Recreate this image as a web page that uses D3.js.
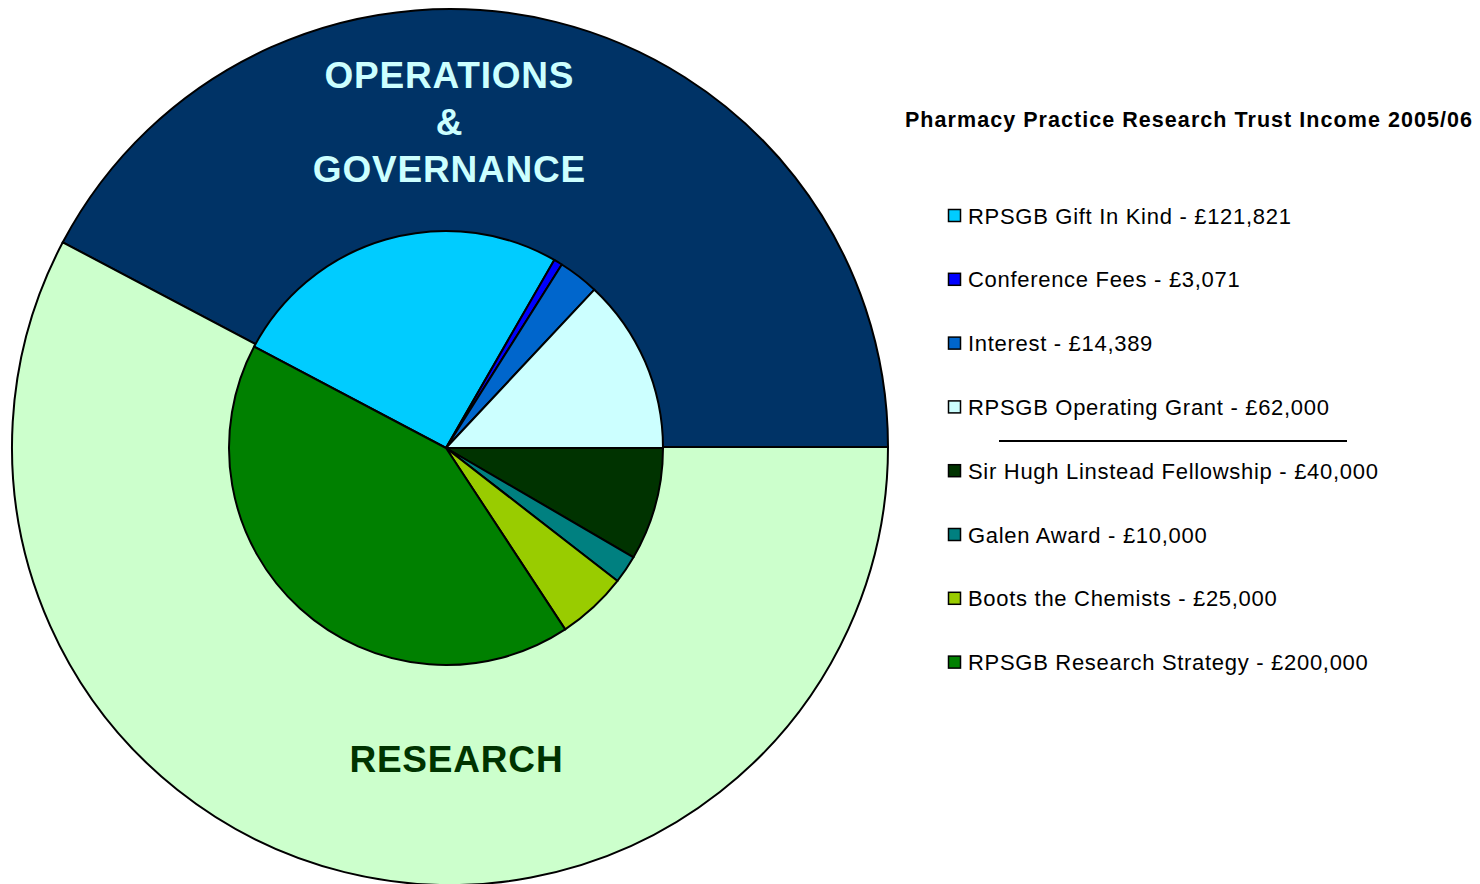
<!DOCTYPE html>
<html>
<head>
<meta charset="utf-8">
<script src="https://cdn.jsdelivr.net/npm/d3@7"></script>
<style>
  body { margin: 0; background: #fff; }
  svg { display: block; font-family: Arial, "Liberation Sans", sans-serif; }
</style>
</head>
<body>
<div id="chart"></div>
<script>
// inner pie: income items
const items = ["RPSGB Gift In Kind", "Conference Fees", "Interest", "RPSGB Operating Grant",
               "Sir Hugh Linstead Fellowship", "Galen Award", "Boots the Chemists", "RPSGB Research Strategy"]
const amounts = [121821, 3071, 14389, 62000, 40000, 10000, 25000, 200000]
const itemColors = ["#00ccff", "#0000ff", "#0066cc", "#ccffff", "#003300", "#008080", "#99cc00", "#008000"]
const itemGroup = ["ops", "ops", "ops", "ops", "res", "res", "res", "res"]

// outer ring: the two groups
const groups = ["ops", "res"]
const groupLabels = [["OPERATIONS", "&", "GOVERNANCE"], ["RESEARCH"]]
const groupColors = ["#003366", "#ccffcc"]
const groupTextColors = ["#ccffff", "#003300"]

const title = "Pharmacy Practice Research Trust Income 2005/06"

const W = 1480, H = 884
const cfg = {
    outerCx: 450, outerCy: 447, outerR: 438,
    innerCx: 446, innerCy: 448, innerR: 217,
    legendX: 948, legendY0: 216, legendStep: 63.8, box: 13,
}

const fmt = d3.format(",")
const total = d3.sum(amounts)
const groupTotals = groups.map(g => d3.sum(amounts.filter((v, i) => itemGroup[i] === g)))
// ops block ends at 3 o'clock
const start = Math.PI / 2 - 2 * Math.PI * groupTotals[0] / total

const svg = d3.select("#chart").append("svg")
    .attr("width", W)
    .attr("height", H)

const pie = d3.pie().sort(null).startAngle(start).endAngle(start + 2 * Math.PI)

// outer ring (drawn full, inner pie sits on top)
const outerArcs = pie(groupTotals)
const outerArc = d3.arc().innerRadius(0).outerRadius(cfg.outerR)
const outerG = svg.append("g").attr("transform", `translate(${cfg.outerCx},${cfg.outerCy})`)
outerG.selectAll("path")
    .data(outerArcs)
    .enter()
    .append("path")
        .attr("d", outerArc)
        .attr("fill", (d, i) => groupColors[i])
        .attr("stroke", "#000")
        .attr("stroke-width", 2)

// inner pie
const innerArc = d3.arc().innerRadius(0).outerRadius(cfg.innerR)
const innerG = svg.append("g").attr("transform", `translate(${cfg.innerCx},${cfg.innerCy})`)
innerG.selectAll("path")
    .data(pie(amounts))
    .enter()
    .append("path")
        .attr("d", innerArc)
        .attr("fill", (d, i) => itemColors[i])
        .attr("stroke", "#000")
        .attr("stroke-width", 2)
        .attr("stroke-linejoin", "round")

// group labels
const labelPos = [[449, 88, 47], [456, 772, 0]]
groupLabels.forEach((lines, gi) => {
    const [x, y0, step] = labelPos[gi]
    lines.forEach((t, li) => {
        svg.append("text")
            .attr("x", x + 0.4)
            .attr("y", y0 + li * step)
            .attr("text-anchor", "middle")
            .attr("font-size", 37)
            .attr("font-weight", "bold")
            .attr("letter-spacing", 0.8)
            .attr("fill", groupTextColors[gi])
            .text(t)
    })
})

// legend
svg.append("text")
    .attr("x", 1189)
    .attr("y", 127)
    .attr("text-anchor", "middle")
    .attr("font-size", 21.5)
    .attr("font-weight", "bold")
    .attr("letter-spacing", 1.05)
    .text(title)

const legend = svg.append("g")
    .selectAll("g")
    .data(items)
    .enter()
    .append("g")
        .attr("transform", (d, i) => `translate(${cfg.legendX},${cfg.legendY0 + i * cfg.legendStep})`)

legend.append("rect")
    .attr("x", 0.5)
    .attr("y", -cfg.box / 2)
    .attr("width", cfg.box - 1)
    .attr("height", cfg.box - 1)
    .attr("fill", (d, i) => itemColors[i])
    .attr("stroke", "#000")
    .attr("stroke-width", 1.5)

legend.append("text")
    .attr("x", 20)
    .attr("y", 7.5)
    .attr("font-size", 22)
    .attr("letter-spacing", 0.7)
    .text((d, i) => `${d} - £${fmt(amounts[i])}`)

// separator between ops and research items
svg.append("line")
    .attr("x1", 999).attr("x2", 1347)
    .attr("y1", 441).attr("y2", 441)
    .attr("stroke", "#000")
    .attr("stroke-width", 2)
</script>
</body>
</html>
